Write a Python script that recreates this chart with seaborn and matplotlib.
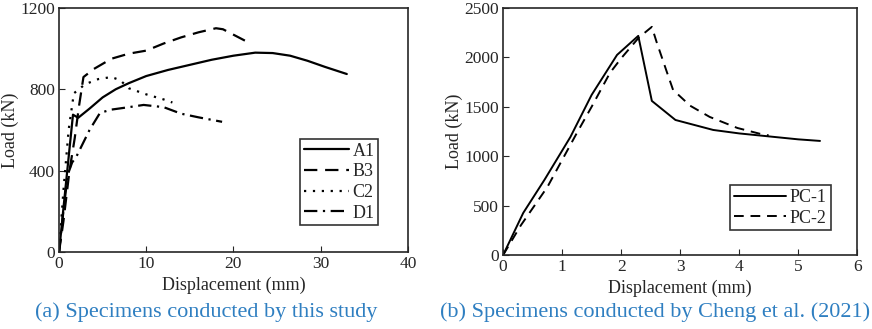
import pandas as pd
import matplotlib.pyplot as plt
import seaborn as sns

# panel (a): specimens of this study
a1_x = [0, 0.8, 1.6, 2.2, 3.5, 5, 6.5, 8, 10, 12.5, 15, 17.5, 20, 22.5, 24.5, 26.5, 28.5, 30.5, 33]
a1_y = [0, 340, 675, 660, 705, 760, 800, 830, 865, 895, 920, 945, 965, 980, 978, 965, 940, 910, 875]

b3_x = [0, 0.5, 1.2, 1.8, 2.3, 2.8, 4, 6, 8, 10, 12, 14, 16, 18, 18.8, 21.5]
b3_y = [0, 150, 400, 560, 720, 860, 900, 950, 975, 990, 1025, 1055, 1080, 1100, 1095, 1035]

c2_x = [0, 0.5, 1.1, 1.7, 3, 4.5, 6, 7, 8, 10, 12, 13]
c2_y = [0, 300, 600, 780, 825, 850, 860, 845, 805, 775, 750, 735]

d1_x = [0, 0.5, 1, 1.5, 2, 3.5, 4.7, 6, 8, 9.7, 12, 14, 16, 18.7]
d1_y = [0, 200, 380, 440, 470, 600, 684, 700, 712, 723, 712, 680, 662, 640]

# panel (b): Cheng et al. (2021)
pc1_x = [0, 0.34, 0.7, 1.14, 1.5, 1.93, 2.29, 2.52, 2.92, 3.56, 4.0, 4.5, 5.0, 5.37]
pc1_y = [0, 425, 760, 1194, 1620, 2024, 2217, 1559, 1366, 1265, 1230, 1200, 1170, 1154]

pc2_x = [0, 0.3, 0.75, 1.25, 1.5, 1.81, 2.0, 2.3, 2.52, 2.6, 2.78, 2.88, 3.17, 3.5, 3.97, 4.36, 4.5]
pc2_y = [0, 300, 688, 1235, 1500, 1842, 1990, 2200, 2308, 2156, 1842, 1670, 1510, 1397, 1285, 1225, 1210]

df_a = pd.concat([
    pd.DataFrame({'disp': a1_x, 'load': a1_y, 'specimen': 'A1'}),
    pd.DataFrame({'disp': b3_x, 'load': b3_y, 'specimen': 'B3'}),
    pd.DataFrame({'disp': c2_x, 'load': c2_y, 'specimen': 'C2'}),
    pd.DataFrame({'disp': d1_x, 'load': d1_y, 'specimen': 'D1'}),
], ignore_index=True)

df_b = pd.concat([
    pd.DataFrame({'disp': pc1_x, 'load': pc1_y, 'specimen': 'PC-1'}),
    pd.DataFrame({'disp': pc2_x, 'load': pc2_y, 'specimen': 'PC-2'}),
], ignore_index=True)

sns.set_style("ticks")
plt.rcParams['font.family'] = ['Liberation Serif', 'DejaVu Serif']

fig = plt.figure(figsize=(8.72, 3.29), dpi=100)
ax1 = fig.add_axes([0.0677, 0.234, 0.400, 0.742])
ax2 = fig.add_axes([0.577, 0.225, 0.406, 0.751])

sns.lineplot(data=df_a, x='disp', y='load', hue='specimen', style='specimen',
             palette=['black'] * 4,
             dashes={'A1': '', 'B3': (6, 3.5), 'C2': (1, 3), 'D1': (6, 2.5, 1, 2.5)},
             sort=False, estimator=None, linewidth=1.6, ax=ax1)
sns.lineplot(data=df_b, x='disp', y='load', hue='specimen', style='specimen',
             palette=['black'] * 2,
             dashes={'PC-1': '', 'PC-2': (5, 3.5)},
             sort=False, estimator=None, linewidth=1.4, ax=ax2)

for ax in (ax1, ax2):
    ax.tick_params(direction='in', labelsize=12.5, top=False, right=False, length=4, pad=3)
    for s in ax.spines.values():
        s.set_linewidth(1.2)
    ax.set_xlabel('Displacement (mm)', fontsize=13, labelpad=3)
    ax.set_ylabel('Load (kN)', fontsize=13, labelpad=1)

ax1.set_xlim(0, 40)
ax1.set_ylim(0, 1200)
ax1.set_xticks([0, 10, 20, 30, 40])
ax1.set_yticks([0, 400, 800, 1200])

ax2.set_xlim(0, 6)
ax2.set_ylim(0, 2500)
ax2.set_xticks([0, 1, 2, 3, 4, 5, 6])
ax2.set_yticks([0, 500, 1000, 1500, 2000, 2500])

leg1 = ax1.legend(loc='lower right', bbox_to_anchor=(0.915, 0.11), fontsize=13,
                  frameon=True, fancybox=False, edgecolor='black', handlelength=2.5,
                  handletextpad=0.2, borderpad=0.2, labelspacing=0.2, borderaxespad=0)
leg1.get_frame().set_linewidth(1.2)
leg2 = ax2.legend(loc='lower right', bbox_to_anchor=(0.925, 0.1), fontsize=13,
                  frameon=True, fancybox=False, edgecolor='black', handlelength=2.9,
                  handletextpad=0.2, borderpad=0.2, labelspacing=0.2, borderaxespad=0)
leg2.get_frame().set_linewidth(1.2)

cap_color = '#2f7fc1'
fig.text(0.237, 0.035, '(a) Specimens conducted by this study', ha='center',
         fontsize=16, color=cap_color)
fig.text(0.751, 0.035, '(b) Specimens conducted by Cheng et al. (2021)', ha='center',
         fontsize=16, color=cap_color)

plt.savefig('out.png', dpi=100)
